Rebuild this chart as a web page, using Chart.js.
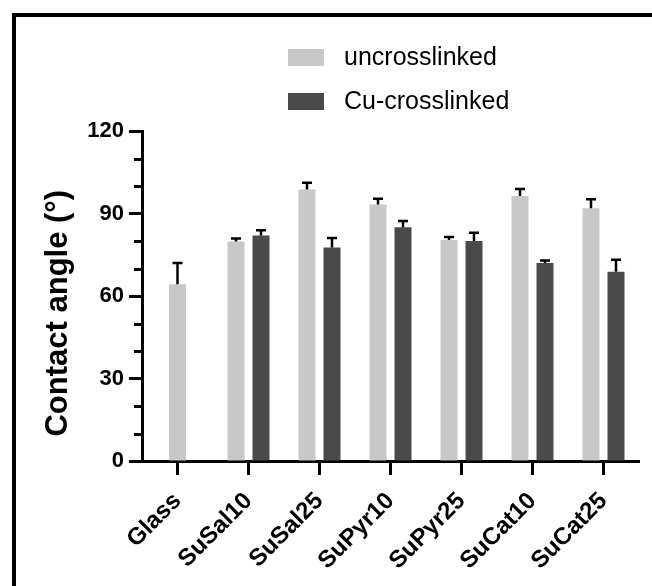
<!DOCTYPE html>
<html lang="en">
  <head>
    <meta charset="utf-8" />
    <title>Contact angle</title>
    <script src="https://cdn.jsdelivr.net/npm/chart.js@4.4.0/dist/chart.umd.min.js"></script>
    <style>
      * {
        margin: 0;
        padding: 0;
        box-sizing: border-box;
      }
      body {
        width: 652px;
        height: 586px;
        overflow: hidden;
        background: #fff;
        font-family: "Liberation Sans", Arial, sans-serif;
      }
      .frame {
        position: absolute;
        left: 12px;
        top: 13px;
        width: 700px;
        height: 700px;
        border: 4px solid #000;
      }
      .wrap {
        position: absolute;
        left: 0;
        top: 0;
        width: 652px;
        height: 586px;
      }
    </style>
  </head>
  <body>
    <div class="frame"></div>
    <div class="wrap"><canvas id="chart"></canvas></div>

    <script>
      // data
      const categories = ["Glass", "SuSal10", "SuSal25", "SuPyr10", "SuPyr25", "SuCat10", "SuCat25"];
      const uncrosslinked = [64.3, 79.8, 98.7, 93.3, 80.4, 96.4, 91.9];
      const uncrosslinkedErr = [7.7, 1.1, 2.5, 2.1, 1.1, 2.5, 3.3];
      const cuCrosslinked = [null, 82.0, 77.6, 85.0, 80.0, 72.0, 68.8];
      const cuCrosslinkedErr = [null, 1.9, 3.5, 2.3, 3.0, 0.9, 4.4];
      const yTicks = [0, 30, 60, 90, 120];
      const yMinorTicks = [10, 20, 40, 50, 70, 80, 100, 110];

      const FONT = "'Liberation Sans', Arial, sans-serif";

      // upward error bars on top of each bar
      const errorBars = {
        id: "errorBars",
        afterDatasetsDraw(chart) {
          const ctx = chart.ctx;
          const y = chart.scales.y;
          ctx.save();
          ctx.strokeStyle = "#000";
          ctx.lineWidth = 2.5;
          chart.data.datasets.forEach((ds, i) => {
            const meta = chart.getDatasetMeta(i);
            meta.data.forEach((bar, j) => {
              const v = ds.data[j];
              const e = ds.errors[j];
              if (v == null || e == null) return;
              const top = y.getPixelForValue(v + e);
              ctx.beginPath();
              ctx.moveTo(bar.x, bar.y);
              ctx.lineTo(bar.x, top);
              ctx.moveTo(bar.x - 5, top);
              ctx.lineTo(bar.x + 5, top);
              ctx.stroke();
            });
          });
          ctx.restore();
        },
      };

      // short minor ticks on the y axis
      const minorTicks = {
        id: "minorTicks",
        afterDraw(chart) {
          const ctx = chart.ctx;
          const y = chart.scales.y;
          ctx.save();
          ctx.strokeStyle = "#000";
          ctx.lineWidth = 3;
          yMinorTicks.forEach((v) => {
            const py = Math.round(y.getPixelForValue(v)) + 0.5;
            ctx.beginPath();
            ctx.moveTo(y.right - 8, py);
            ctx.lineTo(y.right, py);
            ctx.stroke();
          });
          ctx.restore();
        },
      };

      // stacked legend in the top area
      const stackedLegend = {
        id: "stackedLegend",
        afterDraw(chart) {
          const ctx = chart.ctx;
          ctx.save();
          ctx.font = "25px " + FONT;
          ctx.textBaseline = "middle";
          chart.data.datasets.forEach((ds, i) => {
            const cy = 57 + i * 44;
            ctx.fillStyle = ds.backgroundColor;
            ctx.fillRect(288, cy - 8, 36, 17);
            ctx.fillStyle = "#000";
            ctx.fillText(ds.label, 344, cy + 1);
          });
          ctx.restore();
        },
      };

      new Chart(document.getElementById("chart"), {
        type: "bar",
        plugins: [errorBars, minorTicks, stackedLegend],
        data: {
          labels: categories,
          datasets: [
            {
              label: "uncrosslinked",
              data: uncrosslinked,
              errors: uncrosslinkedErr,
              backgroundColor: "#c8c8c8",
            },
            {
              label: "Cu-crosslinked",
              data: cuCrosslinked,
              errors: cuCrosslinkedErr,
              backgroundColor: "#4a4a4a",
            },
          ],
        },
        options: {
          responsive: true,
          maintainAspectRatio: false,
          animation: false,
          skipNull: true,
          categoryPercentage: 0.704,
          barPercentage: 0.68,
          maxBarThickness: 17,
          layout: { padding: { top: 131, right: 13, left: 0, bottom: 0 } },
          plugins: {
            legend: { display: false },
            tooltip: { enabled: false },
          },
          scales: {
            x: {
              afterFit: (s) => { s.height = 125; },
              border: { color: "#000", width: 3 },
              grid: {
                offset: false,
                drawOnChartArea: false,
                tickLength: 14,
                tickWidth: 3,
                tickColor: "#000",
              },
              ticks: {
                color: "#000",
                font: { family: FONT, size: 24, weight: "bold" },
                minRotation: 45,
                maxRotation: 45,
                padding: 12,
              },
            },
            y: {
              min: 0,
              max: 120,
              afterFit: (s) => { s.width = 142; },
              afterBuildTicks: (s) => { s.ticks = yTicks.map((v) => ({ value: v })); },
              border: { color: "#000", width: 3 },
              grid: {
                drawOnChartArea: false,
                tickLength: 13,
                tickWidth: 3,
                tickColor: "#000",
              },
              ticks: {
                color: "#000",
                font: { family: FONT, size: 22, weight: "bold" },
                padding: 5,
              },
              title: {
                display: true,
                text: "Contact angle (°)    ",
                color: "#000",
                font: { family: FONT, size: 31, weight: "bold" },
                padding: { top: 40, bottom: 0 },
              },
            },
          },
        },
      });
    </script>
  </body>
</html>
